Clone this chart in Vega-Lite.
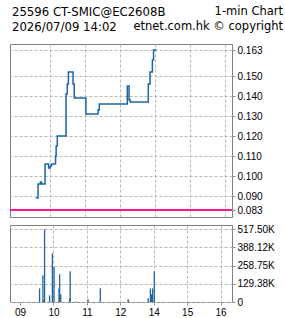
{
  "$schema": "https://vega.github.io/schema/vega-lite/v6.json",
  "background": "white",
  "padding": {"left": 8, "top": 4, "right": 0, "bottom": 0},
  "config": {
    "view": {"stroke": "#808080", "strokeWidth": 1},
    "axis": {
      "domain": false,
      "labelFont": "Liberation Sans",
      "labelFontSize": 10,
      "labelColor": "#000000",
      "tickColor": "#909090",
      "tickSize": 3,
      "labelPadding": 2,
      "gridColor": "#b8b8b8",
      "gridDash": [3, 2],
      "gridWidth": 1,
      "labelOverlap": false,
      "labelBound": false,
      "labelFlush": false,
      "title": null
    }
  },
  "datasets": {
    "header": [
      {"row": 1, "side": 0, "text": "25596 CT-SMIC@EC2608B"},
      {"row": 1, "side": 1, "text": "1-min Chart"},
      {"row": 2, "side": 0, "text": "2026/07/09 14:02"},
      {"row": 2, "side": 1, "text": "etnet.com.hk © copyright"}
    ],
    "price": [
      {"time": "09:35", "t": 35, "price": 0.089},
      {"time": "09:39", "t": 39, "price": 0.096},
      {"time": "09:43", "t": 43, "price": 0.097},
      {"time": "09:45", "t": 45, "price": 0.096},
      {"time": "09:51", "t": 51, "price": 0.106},
      {"time": "09:57", "t": 57, "price": 0.104},
      {"time": "10:00", "t": 60, "price": 0.105},
      {"time": "10:02", "t": 62, "price": 0.106},
      {"time": "10:09", "t": 69, "price": 0.110},
      {"time": "10:10", "t": 70, "price": 0.115},
      {"time": "10:12", "t": 72, "price": 0.120},
      {"time": "10:27", "t": 87, "price": 0.141},
      {"time": "10:29", "t": 89, "price": 0.146},
      {"time": "10:31", "t": 91, "price": 0.152},
      {"time": "10:39", "t": 99, "price": 0.146},
      {"time": "10:41", "t": 101, "price": 0.139},
      {"time": "11:01", "t": 121, "price": 0.131},
      {"time": "11:22", "t": 142, "price": 0.133},
      {"time": "11:24", "t": 144, "price": 0.136},
      {"time": "13:12", "t": 192, "price": 0.145},
      {"time": "13:15", "t": 195, "price": 0.138},
      {"time": "13:17", "t": 197, "price": 0.137},
      {"time": "13:48", "t": 228, "price": 0.146},
      {"time": "13:51", "t": 231, "price": 0.152},
      {"time": "13:55", "t": 235, "price": 0.158},
      {"time": "13:57", "t": 237, "price": 0.163},
      {"time": "14:02", "t": 242, "price": 0.163}
    ],
    "volume": [
      {"time": "09:35", "t": 35, "vol": 97000},
      {"time": "09:41", "t": 41, "vol": 190000},
      {"time": "09:42", "t": 42, "vol": 12000},
      {"time": "09:44", "t": 44, "vol": 517500},
      {"time": "09:53", "t": 53, "vol": 47000},
      {"time": "09:58", "t": 58, "vol": 346000},
      {"time": "10:01", "t": 61, "vol": 249000},
      {"time": "10:10", "t": 70, "vol": 97000},
      {"time": "10:11", "t": 71, "vol": 197000},
      {"time": "10:13", "t": 73, "vol": 55000},
      {"time": "10:29", "t": 89, "vol": 26000},
      {"time": "10:30", "t": 90, "vol": 218000},
      {"time": "10:41", "t": 101, "vol": 5000},
      {"time": "11:02", "t": 122, "vol": 20000},
      {"time": "11:24", "t": 144, "vol": 97000},
      {"time": "13:14", "t": 194, "vol": 20000},
      {"time": "13:15", "t": 195, "vol": 5000},
      {"time": "13:50", "t": 230, "vol": 26000},
      {"time": "13:54", "t": 234, "vol": 97000},
      {"time": "13:56", "t": 236, "vol": 55000},
      {"time": "13:58", "t": 238, "vol": 97000},
      {"time": "14:01", "t": 241, "vol": 218000}
    ]
  },
  "spacing": 9,
  "vconcat": [
    {
      "width": 273,
      "height": 30,
      "view": {"stroke": null},
      "data": {"name": "header"},
      "encoding": {
        "x": {"field": "side", "type": "quantitative", "scale": {"domain": [0, 1], "nice": false, "zero": false}, "axis": null},
        "y": {"field": "row", "type": "ordinal", "scale": {"type": "point", "padding": 0.5}, "axis": null},
        "text": {"field": "text"}
      },
      "layer": [
        {
          "transform": [{"filter": "datum.side == 0"}],
          "mark": {"type": "text", "align": "left", "baseline": "middle", "dx": 2, "font": "DejaVu Sans", "fontSize": 11.7, "color": "#000000"}
        },
        {
          "transform": [{"filter": "datum.side == 1"}],
          "mark": {"type": "text", "align": "right", "baseline": "middle", "font": "DejaVu Sans", "fontSize": 11.5, "color": "#000000"}
        }
      ]
    },
    {
      "spacing": 5,
      "vconcat": [
        {
          "width": 222,
          "height": 173,
          "data": {"name": "price"},
          "layer": [
            {
              "mark": {"type": "rule", "color": "#ff1a8c", "strokeWidth": 1.5},
              "encoding": {
                "y": {
                  "datum": 0.083, "type": "quantitative",
                  "scale": {"domain": [0.0795, 0.166], "nice": false, "zero": false},
                  "axis": {"orient": "right", "values": [0.163, 0.15, 0.14, 0.13, 0.12, 0.11, 0.1, 0.09, 0.083], "format": ".3f", "grid": true, "labelOverlap": false, "zindex": 0}
                }
              }
            },
            {
              "mark": {"type": "line", "interpolate": "step-after", "color": "#1f65a3", "strokeWidth": 1.5},
              "encoding": {
                "x": {
                  "field": "t", "type": "quantitative",
                  "scale": {"domain": [-9.1, 371.5], "nice": false, "zero": false},
                  "axis": {"orient": "bottom", "values": [60, 120, 180, 240, 300, 360], "labels": false, "ticks": false, "grid": true}
                },
                "y": {
                  "field": "price", "type": "quantitative",
                  "scale": {"domain": [0.0795, 0.166], "nice": false, "zero": false},
                  "axis": {"orient": "right", "values": [0.163, 0.15, 0.14, 0.13, 0.12, 0.11, 0.1, 0.09, 0.083], "format": ".3f", "grid": true, "labelOverlap": false, "zindex": 0}
                }
              }
            }
          ]
        },
        {
          "width": 222,
          "height": 77,
          "data": {"name": "volume"},
          "mark": {"type": "bar", "color": "#1f65a3", "size": 1.3},
          "encoding": {
            "x": {
              "field": "t", "type": "quantitative",
              "scale": {"domain": [-9.1, 371.5], "nice": false, "zero": false},
              "axis": {
                "orient": "bottom",
                "values": [0, 60, 120, 180, 240, 300, 360],
                "labelExpr": "['09','10','11','12','14','15','16'][datum.value / 60]",
                "labelOverlap": false,
                "grid": true,
                "gridOpacity": {"condition": {"test": "datum.value === 0", "value": 0}, "value": 1}
              }
            },
            "y": {
              "field": "vol", "type": "quantitative",
              "scale": {"domain": [0, 548000], "nice": false},
              "axis": {
                "orient": "right",
                "values": [0, 129380, 258750, 388120, 517500],
                "labelExpr": "datum.value === 0 ? '0' : format(datum.value / 1000, '.2f') + 'K'",
                "labelOverlap": false,
                "grid": true
              }
            }
          }
        }
      ]
    }
  ]
}
